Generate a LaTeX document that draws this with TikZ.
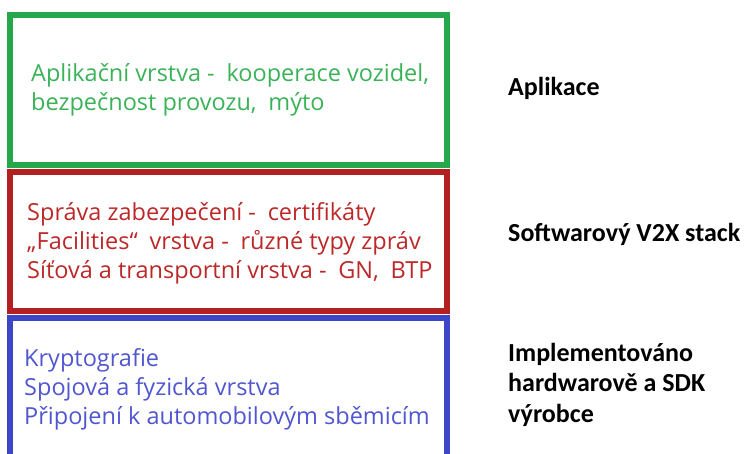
\documentclass[tikz,border=0pt]{standalone}
\usepackage{fontspec}
\setmainfont{Open Sans}
\newfontfamily\calib{Carlito}
\usetikzlibrary{positioning}
\definecolor{zelena}{RGB}{36,168,74}
\definecolor{zelenat}{RGB}{58,178,88}
\definecolor{cervena}{RGB}{178,32,32}
\definecolor{cervenat}{RGB}{188,40,40}
\definecolor{modra}{RGB}{62,70,200}
\definecolor{modrat}{RGB}{80,86,208}
\newcommand{\mezera}{\hspace{0.5em}}
\tikzset{
  vrstva/.style={rectangle, draw=#1, line width=6pt, minimum width=436.5pt},
  popis/.style={text=#1, font=\fontsize{23.5}{29}\selectfont, align=left, inner sep=0pt, anchor=west},
  stitek/.style={font=\calib\bfseries\fontsize{26}{30.5}\selectfont, align=left, inner sep=0pt},
}

\begin{document}
\begin{tikzpicture}[x=1pt, y=-1pt]
    \useasboundingbox (0,0) rectangle (750,453);
    \clip (0,0) rectangle (750,453);
    % vrstvy
    \node[vrstva=zelena, minimum height=150pt] (apl) at (228.25,90) {};
    \node[vrstva=cervena, minimum height=139pt] (sw) at (228.25,241.5) {};
    \node[vrstva=modra, minimum height=142pt] (hw) at (228.25,389) {};
    \node[popis=zelenat] (aplt) at ([xshift=24pt]apl.west) {Aplikační vrstva -\mezera kooperace vozidel,\\
      bezpečnost provozu,\mezera mýto};
    \node[popis=cervenat] (swt) at ([xshift=20pt,yshift=-2pt]sw.west) {Správa zabezpečení -\mezera certifikáty\\
      „Facilities“\mezera vrstva -\mezera různé typy zpráv\\
      Síťová a transportní vrstva -\mezera GN,\mezera BTP};
    \node[popis=modrat] (hwt) at ([xshift=17pt]hw.west) {Kryptografie\\
      Spojová a fyzická vrstva\\
      Připojení k automobilovým sběmicím};
    % popisky vpravo
    \node[stitek, anchor=base west] (lapl) at (508,95) {Aplikace};
    \node[stitek, anchor=base west] (lsw) at (508,241) {Softwarový V2X stack};
    \node[stitek, anchor=north west] (lhw) at (508,343) {Implementováno\\
      hardwarově a SDK\\
      výrobce};
  \end{tikzpicture}
\end{document}
